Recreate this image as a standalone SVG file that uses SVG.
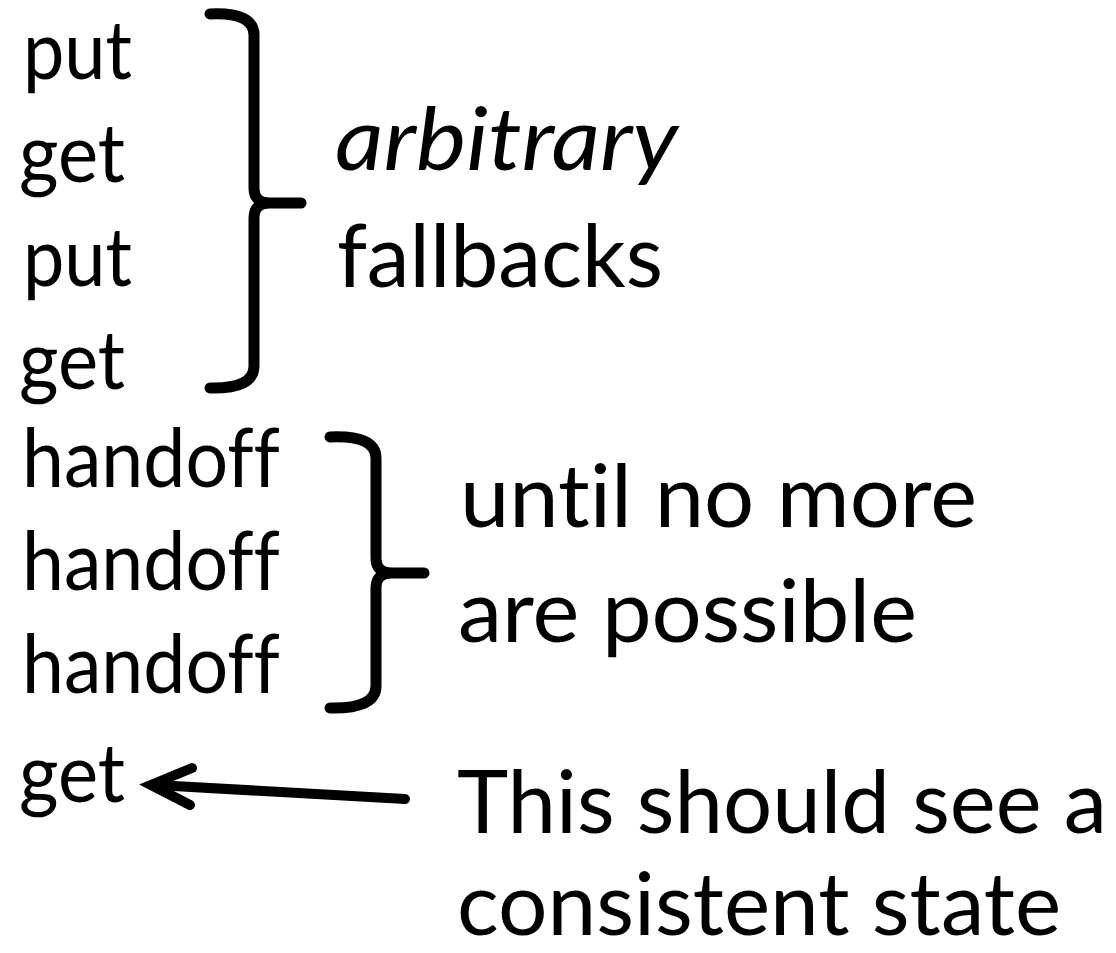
<svg xmlns="http://www.w3.org/2000/svg" width="1116" height="953" viewBox="0 0 1116 953">
<style>
text{font-variant-ligatures:none;font-feature-settings:"liga" 0,"clig" 0}
.l{font-family:Lato,"Open Sans","Liberation Sans",sans-serif;font-size:81px;fill:#000}
.r{font-family:Lato,"Open Sans","Liberation Sans",sans-serif;font-size:87px;fill:#000}
.i{font-style:italic}
.br{fill:none;stroke:#000;stroke-width:11;stroke-linecap:round;stroke-linejoin:round}
.ar{fill:none;stroke:#000;stroke-width:10;stroke-linecap:round;stroke-linejoin:miter}
</style>
<rect width="1116" height="953" fill="#fff"/>
<g id="ops">
<text class="l" x="23" y="79" textLength="109" lengthAdjust="spacingAndGlyphs">put</text>
<text class="l" x="19" y="182" textLength="106" lengthAdjust="spacingAndGlyphs">get</text>
<text class="l" x="23" y="286" textLength="109" lengthAdjust="spacingAndGlyphs">put</text>
<text class="l" x="19" y="389" textLength="106" lengthAdjust="spacingAndGlyphs">get</text>
<text class="l" x="22" y="487" textLength="258" lengthAdjust="spacingAndGlyphs">handoff</text>
<text class="l" x="22" y="590" textLength="258" lengthAdjust="spacingAndGlyphs">handoff</text>
<text class="l" x="22" y="693" textLength="258" lengthAdjust="spacingAndGlyphs">handoff</text>
<text class="l" x="19" y="802" textLength="106" lengthAdjust="spacingAndGlyphs">get</text>
</g>
<g id="brace1">
<path class="br" d="M210,14 Q254,12 254,35 L254,188 Q254,203 270,203 L301,203 M270,203 Q254,203 254,218 L254,366 Q254,389 210,388"/>
</g>
<g id="label1">
<text class="r i" x="335" y="170" textLength="343" lengthAdjust="spacingAndGlyphs">arbitrary</text>
<text class="r" x="337" y="287" textLength="326" lengthAdjust="spacingAndGlyphs">fallbacks</text>
</g>
<g id="brace2">
<path class="br" d="M330,437 Q376,435 376,458 L376,558 Q376,573 392,573 L424,573 M392,573 Q376,573 376,588 L376,686 Q376,709 330,708"/>
</g>
<g id="label2">
<text class="r" x="460" y="527" textLength="517" lengthAdjust="spacingAndGlyphs">until no more</text>
<text class="r" x="458" y="642" textLength="459" lengthAdjust="spacingAndGlyphs">are possible</text>
</g>
<g id="label3">
<text class="r" x="457" y="833" textLength="650" lengthAdjust="spacingAndGlyphs">This should see a</text>
<text class="r" x="457" y="935" textLength="604" lengthAdjust="spacingAndGlyphs">consistent state</text>
</g>
<g id="connectors">
<line class="ar" x1="405" y1="799" x2="156" y2="785"/>
<polyline class="ar" points="192,768 151,785 190,805"/>
</g>
</svg>
